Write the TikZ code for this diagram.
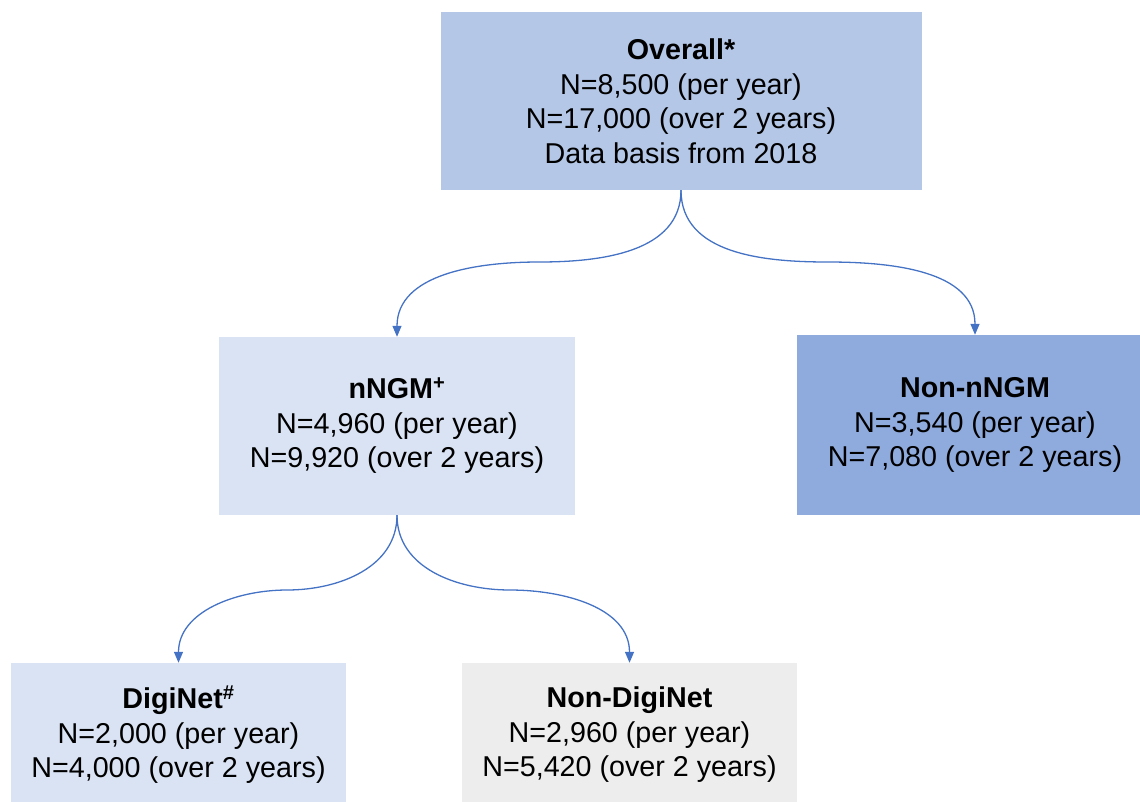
\documentclass[tikz,border=0pt]{standalone}
\usepackage{fontspec}
\setmainfont{Liberation Sans}
\usetikzlibrary{arrows.meta}
\definecolor{ovfill}{HTML}{B4C7E7}
\definecolor{ltfill}{HTML}{DAE3F3}
\definecolor{dkfill}{HTML}{8FAADC}
\definecolor{gyfill}{HTML}{EDEDED}
\definecolor{arrowc}{HTML}{4472C4}
\tikzset{
  box/.style={inner sep=0pt, align=center, font=\fontsize{28.7}{34.5}\selectfont},
  conn/.style={draw=arrowc, line width=1.3pt, -{Triangle[length=11pt,width=9pt]}}
}
\begin{document}
\begin{tikzpicture}[x=1pt,y=-1pt]
\useasboundingbox (0,0) rectangle (1140,801);
\node[box, fill=ovfill, minimum width=481pt, minimum height=178pt] (ov) at (681,101)
  {\textbf{Overall*}\\N=8,500 (per year)\\N=17,000 (over 2 years)\\Data basis from 2018};
\node[box, fill=ltfill, minimum width=356pt, minimum height=178pt] (ngm) at (397,426)
  {\textbf{nNGM\textsuperscript{+}}\\N=4,960 (per year)\\N=9,920 (over 2 years)};
\node[box, fill=dkfill, minimum width=356pt, minimum height=180pt] (non) at (975,425)
  {\textbf{Non-nNGM}\\N=3,540 (per year)\\N=7,080 (over 2 years)};
\node[box, fill=ltfill, minimum width=335pt, minimum height=144pt] (dig) at (178.5,735)
  {\textbf{DigiNet\textsuperscript{\#}}\\N=2,000 (per year)\\N=4,000 (over 2 years)};
\node[box, fill=gyfill, minimum width=335pt, minimum height=144pt] (ndg) at (629.5,735)
  {\textbf{Non-DigiNet}\\N=2,960 (per year)\\N=5,420 (over 2 years)};
\coordinate (m1) at (539,262);
\coordinate (m2) at (828,262);
\coordinate (m3) at (287,590);
\coordinate (m4) at (510,590);
\draw[conn] (ov.south) to[out=-90,in=0] (m1) to[out=180,in=90] (ngm.north);
\draw[conn] (ov.south) to[out=-90,in=180] (m2) to[out=0,in=90] (non.north);
\draw[conn] (ngm.south) to[out=-90,in=0] (m3) to[out=180,in=90] (dig.north);
\draw[conn] (ngm.south) to[out=-90,in=180] (m4) to[out=0,in=90] (ndg.north);
\end{tikzpicture}
\end{document}
